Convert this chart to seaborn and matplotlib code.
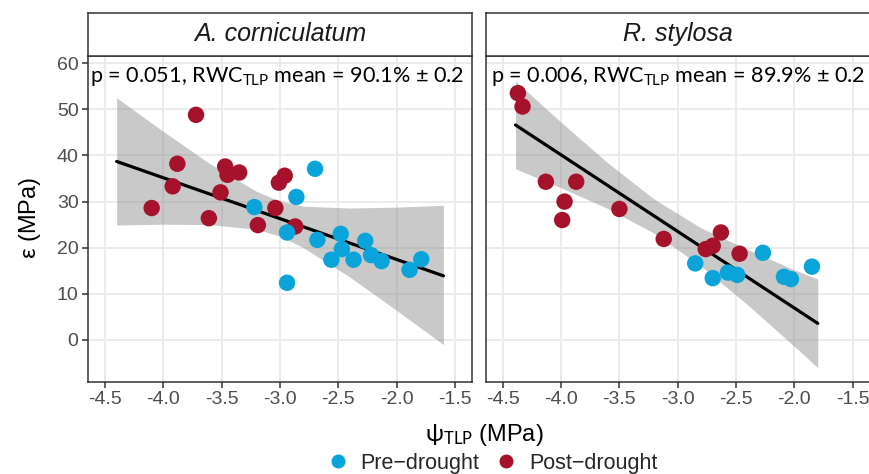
import numpy as np
import pandas as pd
import seaborn as sns
import matplotlib.pyplot as plt

#%%
#--Values
#A. corniculatum
ac_post_x = [-3.72, -3.88, -3.92, -4.10, -3.61, -3.51, -3.47, -3.45, -3.35, -3.19, -3.04, -3.01, -2.96, -2.87]
ac_post_y = [48.8, 38.2, 33.3, 28.6, 26.4, 32.0, 37.6, 35.8, 36.3, 24.9, 28.6, 34.1, 35.6, 24.6]
ac_pre_x = [-3.22, -2.94, -2.94, -2.86, -2.70, -2.68, -2.56, -2.48, -2.47, -2.37, -2.27, -2.22, -2.13, -1.89, -1.79]
ac_pre_y = [28.8, 23.3, 12.4, 31.0, 37.1, 21.7, 17.4, 23.0, 19.7, 17.4, 21.5, 18.4, 17.1, 15.2, 17.5]
ac_fit_x = [-4.4, -1.6]
ac_fit_y = [38.7, 13.9]
ac_band_x = [-4.4, -4.0, -3.6, -3.2, -3.0, -2.8, -2.4, -2.0, -1.6]
ac_band_lo = [24.9, 25.1, 25.0, 24.0, 22.5, 20.0, 13.6, 6.4, -1.0]
ac_band_hi = [52.5, 45.2, 38.2, 32.2, 30.1, 29.0, 28.6, 28.8, 29.2]

#R. stylosa
rs_post_x = [-4.37, -4.33, -4.13, -3.87, -3.97, -3.99, -3.50, -3.12, -2.76, -2.70, -2.63, -2.47]
rs_post_y = [53.5, 50.6, 34.3, 34.3, 30.0, 26.0, 28.4, 21.9, 19.7, 20.4, 23.3, 18.7]
rs_pre_x = [-2.85, -2.70, -2.57, -2.49, -2.27, -2.09, -2.03, -1.85]
rs_pre_y = [16.6, 13.4, 14.6, 14.1, 18.9, 13.7, 13.2, 15.9]
rs_fit_x = [-4.39, -1.80]
rs_fit_y = [46.6, 3.6]
rs_band_x = [-4.39, -4.0, -3.6, -3.2, -2.8, -2.4, -2.0, -1.8]
rs_band_lo = [37.1, 33.0, 28.5, 23.1, 16.0, 7.6, -1.4, -6.0]
rs_band_hi = [56.1, 47.2, 38.4, 30.5, 24.3, 19.6, 15.2, 13.2]

species = ['A. corniculatum', 'R. stylosa']
stats = ['p = 0.051, RWC$_{\\mathrm{TLP}}$ mean = 90.1% ± 0.2',
         'p = 0.006, RWC$_{\\mathrm{TLP}}$ mean = 89.9% ± 0.2']
groups = ['Pre\u2212drought', 'Post\u2212drought']
colors = ['#0AA4DA', '#A6122B']
x_ticks = [-4.5, -4.0, -3.5, -3.0, -2.5, -2.0, -1.5]
y_ticks = [0, 10, 20, 30, 40, 50, 60]


#%%
#--Style
sns.set_theme(style='white')
plt.rcParams['font.family'] = ['Liberation Sans', 'DejaVu Sans']
plt.rcParams['axes.unicode_minus'] = False
plt.rcParams['mathtext.fontset'] = 'custom'
plt.rcParams['mathtext.rm'] = 'Lato'
plt.rcParams['mathtext.it'] = 'Lato:italic'
plt.rcParams['mathtext.bf'] = 'Lato:bold'

W, H = 869, 474
def box(l, t, r, b):
    #pixel box -> figure fraction
    return [l / W, 1 - b / H, (r - l) / W, (b - t) / H]

fig = plt.figure(figsize=(W / 100, H / 100), dpi=100)

panels = [
    (88.3, 472.0, ac_post_x, ac_post_y, ac_pre_x, ac_pre_y, ac_fit_x, ac_fit_y,
     ac_band_x, ac_band_lo, ac_band_hi, 0.005),
    (486.0, 869.7, rs_post_x, rs_post_y, rs_pre_x, rs_pre_y, rs_fit_x, rs_fit_y,
     rs_band_x, rs_band_lo, rs_band_hi, 0.012),
]

for i, (l, r, post_x, post_y, pre_x, pre_y, fit_x, fit_y, bx, blo, bhi, tx) in enumerate(panels):
    ax = fig.add_axes(box(l, 56, r, 381.7))
    df = pd.DataFrame({
        'x': post_x + pre_x,
        'y': post_y + pre_y,
        'group': [groups[1]] * len(post_x) + [groups[0]] * len(pre_x)
    })

    ax.fill_between(bx, blo, bhi, color='#808080', alpha=0.42, lw=0, zorder=2)
    sns.lineplot(x=fit_x, y=fit_y, color='black', lw=2.3, ax=ax, zorder=3)
    sns.scatterplot(data=df, x='x', y='y', hue='group', hue_order=groups,
                    palette=colors, s=140, linewidth=0, alpha=1,
                    ax=ax, legend=(i == 0), zorder=4)

    ax.set_xlim(-4.643, -1.355)
    ax.set_ylim(-9.04, 61.55)
    ax.set_xticks(x_ticks)
    ax.set_xticklabels(['%.1f' % v for v in x_ticks])
    ax.set_yticks(y_ticks)
    if i == 1:
        ax.set_yticklabels([])
        ax.tick_params(axis='y', length=0)
    ax.grid(True, color='#EBEBEB', lw=1.4)
    ax.set_axisbelow(True)
    for sp in ax.spines.values():
        sp.set_color('#333333')
        sp.set_linewidth(1.1)
    ax.tick_params(axis='both', which='major', length=4, width=1.1, color='#333333',
                   labelsize=14, labelcolor='#4D4D4D', pad=3, bottom=True, left=(i == 0))
    ax.set_xlabel('')
    ax.set_ylabel('')

    ax.text(tx, 0.921, stats[i], transform=ax.transAxes, ha='left', va='baseline',
            fontsize=15.6, family=['Lato', 'DejaVu Sans'], color='black', zorder=5)

    if i == 0:
        handles, labels = ax.get_legend_handles_labels()
        ax.get_legend().remove()

    #Strip on top of the panel
    sax = fig.add_axes(box(l, 12.7, r, 56))
    sax.set_xticks([])
    sax.set_yticks([])
    sax.set_facecolor('white')
    for sp in sax.spines.values():
        sp.set_color('#333333')
        sp.set_linewidth(1.1)
    sax.text(0.5, 0.5, species[i], transform=sax.transAxes, ha='center', va='center',
             fontsize=18, style='italic', color='#1A1A1A')

#Axis titles
fig.text(484 / W, 1 - 435 / H, '$\\mathrm{\\psi}_{\\mathrm{TLP}}$ (MPa)', ha='center', va='center',
         fontsize=17, color='black')
fig.text(30 / W, 1 - 218 / H, '$\\mathrm{\\varepsilon}$ (MPa)', ha='center', va='center',
         rotation=90, fontsize=17, color='black')

#Legend at the bottom
fig.legend(handles, labels, loc='center', bbox_to_anchor=(487 / W, 1 - 463 / H),
           ncol=2, frameon=False, fontsize=15.5, markerscale=0.85,
           handletextpad=0.05, columnspacing=0.25, borderpad=0)

plt.savefig('out.png', dpi=100)
plt.close()
